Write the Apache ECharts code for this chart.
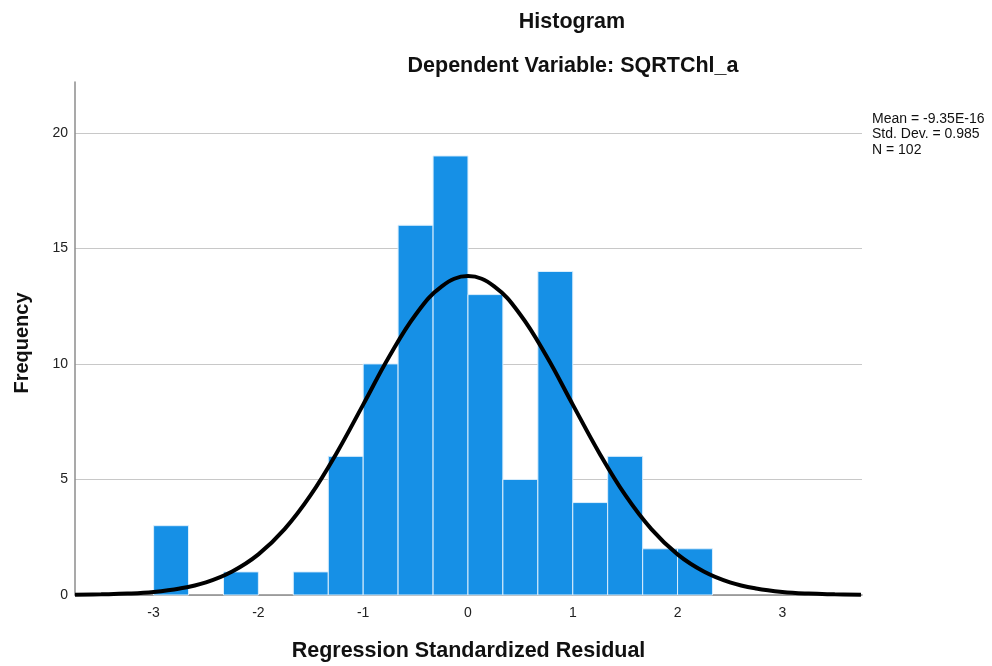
<!DOCTYPE html>
<html>
<head>
<meta charset="utf-8">
<script src="https://cdn.jsdelivr.net/npm/echarts@6/dist/echarts.min.js"></script>
<style>
html,body{margin:0;padding:0;background:#fff;}
#chart{width:992px;height:666px;}
</style>
</head>
<body>
<div id="chart"></div>
<script>
// Histogram bins (lower edges, upper edges) and counts
const binLower = [-3.0, -2.667, -2.333, -2.0, -1.667, -1.333, -1.0, -0.667, -0.333, 0.0, 0.333, 0.667, 1.0, 1.333, 1.667, 2.0];
const binUpper = [-2.667, -2.333, -2.0, -1.667, -1.333, -1.0, -0.667, -0.333, 0.0, 0.333, 0.667, 1.0, 1.333, 1.667, 2.0, 2.333];
const counts   = [3, 0, 1, 0, 1, 6, 10, 16, 19, 13, 5, 14, 4, 6, 2, 2];

// Normal curve
const curveX = [-3.75,-3.5,-3.25,-3.0,-2.75,-2.5,-2.25,-2.0,-1.75,-1.5,-1.25,-1.0,-0.75,-0.5,-0.25,0,0.25,0.5,0.75,1.0,1.25,1.5,1.75,2.0,2.25,2.5,2.75,3.0,3.25,3.5,3.75];
const curveY = [0.01,0.03,0.06,0.13,0.28,0.55,1.02,1.76,2.85,4.33,6.17,8.24,10.33,12.13,13.36,13.8,13.36,12.13,10.33,8.24,6.17,4.33,2.85,1.76,1.02,0.55,0.28,0.13,0.06,0.03,0.01];

const yTicks = [0, 5, 10, 15, 20];
const xTicks = [-3, -2, -1, 0, 1, 2, 3];
const statsLines = ['Mean = -9.35E-16', 'Std. Dev. = 0.985', 'N = 102'];

const barData = binLower.map((lo, i) => [lo, binUpper[i], counts[i]]);
const curveData = curveX.map((x, i) => [x, curveY[i]]);

const FONT = '"Liberation Sans", Arial, sans-serif';
const chart = echarts.init(document.getElementById('chart'), null, {renderer: 'canvas'});

chart.setOption({
  animation: false,
  backgroundColor: '#ffffff',
  textStyle: {fontFamily: FONT},
  grid: {left: 75, right: 130, top: 82, bottom: 71, containLabel: false, outerBoundsMode: 'none'},
  graphic: [
    {type: 'text', x: 572, y: 22, style: {text: 'Histogram', font: 'bold 21.5px ' + FONT, fill: '#111', align: 'center', verticalAlign: 'middle'}},
    {type: 'text', x: 573, y: 66, style: {text: 'Dependent Variable: SQRTChl_a', font: 'bold 21.5px ' + FONT, fill: '#111', align: 'center', verticalAlign: 'middle'}},
    {type: 'text', x: 22, y: 343, rotation: Math.PI / 2, style: {text: 'Frequency', font: 'bold 20px ' + FONT, fill: '#111', align: 'center', verticalAlign: 'middle'}},
    {type: 'text', x: 872, y: 111, style: {text: statsLines.join('\n'), font: '14px ' + FONT, lineHeight: 15.5, fill: '#111', align: 'left', verticalAlign: 'top'}}
  ],
  xAxis: {
    type: 'value',
    min: -3.75,
    max: 3.76,
    minInterval: 1,
    maxInterval: 1,
    name: 'Regression Standardized Residual',
    nameLocation: 'middle',
    nameGap: 45,
    nameTextStyle: {fontFamily: FONT, fontSize: 21.5, fontWeight: 'bold', color: '#111'},
    axisLine: {show: true, onZero: false, lineStyle: {color: '#8c8c8c', width: 1.5}},
    axisTick: {show: false},
    splitLine: {show: false},
    axisLabel: {
      fontFamily: FONT, fontSize: 14, color: '#222', margin: 11,
      showMinLabel: false, showMaxLabel: false,
      formatter: v => (xTicks.indexOf(v) >= 0 ? String(v) : '')
    }
  },
  yAxis: {
    type: 'value',
    min: 0,
    max: 22.2,
    interval: 5,
    axisLine: {show: true, onZero: false, lineStyle: {color: '#8c8c8c', width: 1.5}},
    axisTick: {show: false},
    splitLine: {show: true, lineStyle: {color: ['#c8c8c8','#c8c8c8','#c8c8c8','#c8c8c8','#c8c8c8','rgba(0,0,0,0)'], width: 1.2}},
    axisLabel: {
      fontFamily: FONT, fontSize: 14, color: '#222', margin: 7,
      showMaxLabel: false,
      formatter: v => (yTicks.indexOf(v) >= 0 ? String(v) : '')
    }
  },
  series: [
    {
      type: 'custom',
      data: barData,
      encode: {x: [0, 1], y: 2},
      z: 2,
      renderItem: function (params, api) {
        const h = api.value(2);
        if (!h) return null;
        const p0 = api.coord([api.value(0), h]);
        const p1 = api.coord([api.value(1), 0]);
        return {
          type: 'rect',
          shape: {x: p0[0], y: p0[1], width: p1[0] - p0[0], height: p1[1] - p0[1]},
          style: {fill: '#1690e6', stroke: '#dbeefc', lineWidth: 1}
        };
      }
    },
    {
      type: 'line',
      data: curveData,
      smooth: 0.4,
      symbol: 'none',
      z: 5,
      lineStyle: {color: '#000', width: 4}
    }
  ]
});
</script>
</body>
</html>
